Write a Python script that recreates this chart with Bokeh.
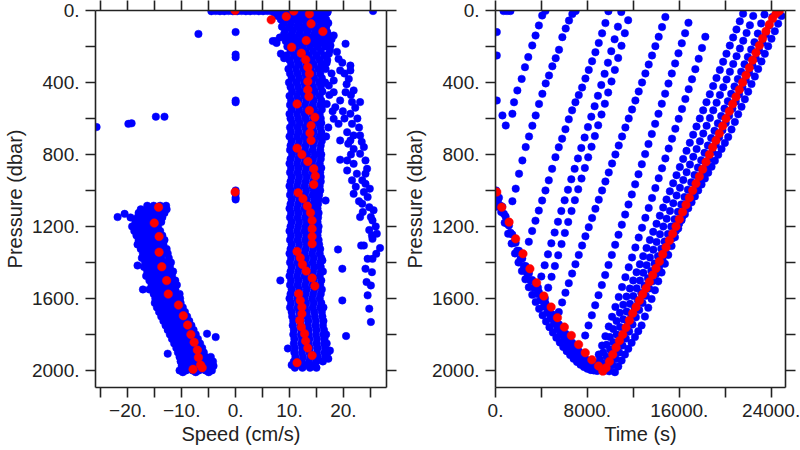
from bokeh.plotting import figure
from bokeh.models import Range1d, FixedTicker, LinearAxis
from bokeh.layouts import row
from bokeh.embed import file_html
from bokeh.resources import INLINE

# ---------------- LEFT PANEL DATA: speed (cm/s) vs pressure (dbar) ----------------
top_row_speed = [-4.5, -3.7, -2.9, -2.1, -1.3, -0.5, 0.3, 1.1, 1.9, 2.7, 3.5, 4.3, 5.1, 5.9, 6.7,
                 7.5, 8.3, 9.1, 9.9, 10.7, 11.5, 12.3, 13.1, 13.9, 14.7, 15.5, 16.3, 17.1, 25.5]
top_row_pres = [4, 3, 4, 4, 3, 4, 4, 3, 4, 4, 3, 4, 4, 3, 4, 5, 4, 5, 6, 4, 5, 6, 4, 5, 6, 4, 5, 6, 3]

band_pres = [12, 30, 50, 70, 90, 110, 130, 150, 170, 185,
             200, 225, 250, 275, 300, 325, 350, 375, 400, 425, 450, 475, 500, 525, 550, 575, 600,
             625, 650, 675, 700, 725, 750, 775, 800, 825, 850, 875, 900, 925, 950, 975, 1000,
             1025, 1050, 1075, 1100, 1125, 1150, 1175, 1200, 1225, 1250, 1275, 1300, 1325, 1350,
             1375, 1400, 1425, 1450, 1475, 1500, 1525, 1550, 1575, 1600, 1625, 1650, 1675, 1700,
             1725, 1750, 1775, 1800, 1825, 1850, 1875, 1900, 1925, 1950, 1970, 1985]
band_speeds = [
    [7.2, 8.6, 10.0, 11.4, 12.8, 14.2, 15.6, 17.0],
    [7.8, 9.2, 10.6, 12.0, 13.4, 14.8, 16.2],
    [8.4, 9.8, 11.2, 12.6, 14.0, 15.4, 16.8],
    [8.9, 10.3, 11.7, 13.1, 14.5, 15.9, 17.2],
    [8.6, 10.0, 11.4, 12.8, 14.2, 15.6, 16.8],
    [9.2, 10.6, 12.0, 13.4, 14.8, 16.2],
    [9.0, 10.4, 11.8, 13.2, 14.6, 16.0, 17.0],
    [8.2, 9.6, 11.0, 12.4, 13.8, 15.2, 16.4],
    [7.4, 9.3, 10.7, 12.1, 13.5, 14.9, 16.3],
    [9.8, 11.2, 12.6, 14.0, 15.4, 16.8],
    [9.6, 11.0, 12.4, 13.8, 15.2, 16.6],
    [10.2, 11.6, 13.0, 14.4, 15.8],
    [9.4, 10.8, 12.2, 13.6, 15.0, 16.4],
    [10.0, 11.4, 12.8, 14.2, 15.6, 17.0],
    [10.3, 11.7, 13.1, 14.5, 15.9],
    [9.8, 11.2, 12.6, 14.0, 15.4, 16.7],
    [10.1, 11.5, 12.9, 14.3, 15.7],
    [10.4, 11.8, 13.2, 14.6, 16.0],
    [9.9, 11.3, 12.7, 14.1, 15.5, 16.5],
    [10.2, 11.6, 13.0, 14.4, 15.8],
    [10.5, 11.9, 13.3, 14.7, 16.1],
    [10.0, 11.4, 12.8, 14.2, 15.6],
    [10.3, 11.7, 13.1, 14.5, 15.9],
    [10.1, 11.5, 12.9, 14.3, 15.7],
    [10.4, 11.8, 13.2, 14.6, 16.0],
    [10.0, 11.4, 12.8, 14.2, 15.6],
    [10.2, 11.6, 13.0, 14.4, 15.8],
    [10.5, 11.9, 13.3, 14.7, 15.9],
    [10.1, 11.5, 12.9, 14.3, 15.7],
    [10.3, 11.7, 13.1, 14.5, 15.9],
    [10.0, 11.4, 12.8, 14.2, 15.6],
    [10.4, 11.8, 13.2, 14.6, 16.0],
    [10.2, 11.6, 13.0, 14.4, 15.8],
    [10.1, 11.5, 12.9, 14.3, 15.7],
    [10.5, 11.9, 13.3, 14.7, 15.9],
    [10.2, 11.6, 13.0, 14.4, 15.8],
    [10.0, 11.4, 12.8, 14.2, 15.6],
    [10.3, 11.7, 13.1, 14.5, 15.9],
    [10.1, 11.5, 12.9, 14.3, 15.7],
    [10.4, 11.8, 13.2, 14.6, 15.8],
    [10.2, 11.6, 13.0, 14.4, 15.8],
    [10.0, 11.4, 12.8, 14.2, 15.6],
    [10.3, 11.7, 13.1, 14.5, 15.7],
    [10.1, 11.5, 12.9, 14.3, 15.5],
    [10.4, 11.8, 13.2, 14.6, 15.4],
    [10.2, 11.6, 13.0, 14.4, 15.3],
    [10.0, 11.4, 12.8, 14.2, 15.2],
    [10.3, 11.7, 13.1, 14.5, 15.4],
    [10.1, 11.5, 12.9, 14.3, 15.3],
    [10.4, 11.8, 13.2, 14.6, 15.2],
    [10.2, 11.6, 13.0, 14.4, 15.4],
    [10.0, 11.4, 12.8, 14.2, 15.3],
    [10.3, 11.7, 13.1, 14.5, 15.2],
    [10.1, 11.5, 12.9, 14.3, 15.4],
    [10.4, 11.8, 13.2, 14.6, 15.5],
    [10.2, 11.6, 13.0, 14.4, 15.7],
    [10.0, 11.4, 12.8, 14.2, 15.6],
    [10.3, 11.7, 13.1, 14.5, 15.9],
    [10.1, 11.5, 12.9, 14.3, 15.7],
    [10.4, 11.8, 13.2, 14.6, 15.8],
    [10.2, 11.6, 13.0, 14.4, 15.8, 16.2],
    [10.0, 11.4, 12.8, 14.2, 15.6],
    [10.3, 11.7, 13.1, 14.5, 15.9],
    [10.1, 11.5, 12.9, 14.3, 15.7],
    [10.4, 11.8, 13.2, 14.6, 16.0],
    [10.2, 11.6, 13.0, 14.4, 15.8],
    [10.0, 11.4, 12.8, 14.2, 15.6],
    [10.3, 11.7, 13.1, 14.5, 15.9],
    [10.1, 11.5, 12.9, 14.3, 15.7, 16.3],
    [10.4, 11.8, 13.2, 14.6, 16.0],
    [10.5, 11.9, 13.3, 14.7, 16.1],
    [10.7, 12.1, 13.5, 14.9, 16.3],
    [10.6, 12.0, 13.4, 14.8, 16.2],
    [10.8, 12.2, 13.6, 15.0, 16.4],
    [10.7, 12.1, 13.5, 14.9, 16.3, 16.8],
    [10.9, 12.3, 13.7, 15.1, 16.5],
    [10.8, 12.2, 13.6, 15.0, 16.4, 16.9],
    [11.0, 12.4, 13.8, 15.2, 16.6],
    [10.9, 12.3, 13.7, 15.1, 16.5, 17.1],
    [11.1, 12.5, 13.9, 15.3, 16.7],
    [10.8, 12.2, 13.6, 15.0, 16.2],
    [10.4, 11.8, 13.2, 14.6],
    [11.0, 12.4, 13.8, 15.0],
]

outer_speed = [18.2, 20.4, 17.6, 17.3, 21.3, 19.1, 19.4, 21.3, 21.0, 18.2, 17.3, 21.9, 18.2, 20.4,
               19.4, 23.1, 21.6, 18.5, 21.3, 18.2, 19.1, 21.6, 20.7, 21.9, 23.1, 19.4, 21.3, 23.8,
               21.9, 23.1, 19.4, 20.7, 24.1, 21.9, 20.7, 24.1, 22.5, 21.6, 23.5, 24.1, 21.9, 23.8,
               24.5, 24.8, 23.5, 25.1, 25.4, 23.1, 16.1, 16.7, 14.8,
               19.0, 19.8, 19.8, 20.5, 8.3, 9.7, 23.3, 24.1, 24.3, 24.5, 24.8, 25.1, 25.3, 25.4,
               26.1, 25.4, 24.5, 23.8, 25.1, 25.3, 26.0, 24.8,
               16.8, 17.5, 16.9, 17.8, 16.6, 17.4, 16.9, 18.0, 17.2, 16.8,
               6.9, 7.6, 8.4, 9.0, 16.7, 16.1, 17.5, 17.2,
               17.0, 17.8, 18.8, 19.8, 20.2, 20.6, 21.4, 22.2, 22.6, 22.9, 23.4, 24.4, 24.9,
               25.6, 26.2, 26.8, 19.9, 20.2, 20.9, 21.4, 22.3, 22.9, 23.6]
outer_pres = [139, 185, 194, 241, 306, 269, 333, 333, 380, 389, 417, 444, 454, 454,
              500, 509, 509, 537, 574, 602, 630, 630, 676, 694, 694, 722, 722, 759,
              769, 796, 829, 833, 833, 852, 889, 907, 907, 944, 944, 963, 1019, 1009,
              1037, 1093, 1074, 1148, 1167, 1148, 74, 93, 28,
              1328, 1435, 1611, 1809, 1500, 1878, 1306, 1435, 1509, 1583, 1657, 1731, 1454, 1380,
              1352, 1269, 1380, 1306, 1528, 1250, 1200, 1220,
              160, 220, 290, 350, 400, 470, 520, 560, 650, 700,
              170, 180, 240, 265, 1056, 1389, 1890, 1935,
              120, 160, 230, 290, 350, 410, 470, 540, 600, 650, 730, 880, 990,
              1110, 1240, 1320, 560, 600, 740, 800, 980, 1060, 1120]

neg_pres = [1085, 1105, 1125, 1150, 1175, 1200, 1225, 1250, 1275, 1300, 1325, 1350, 1375, 1400,
            1425, 1450, 1475, 1500, 1525, 1550, 1575, 1600, 1625, 1650, 1675, 1700, 1725, 1750,
            1775, 1800, 1825, 1850, 1875, 1900, 1925, 1950, 1975, 2000, 2010]
neg_speeds = [
    [-16.4, -15.2, -14.0, -12.9],
    [-17.6, -16.4, -15.2, -14.0, -12.8],
    [-18.0, -16.8, -15.6, -14.4, -13.2],
    [-19.5, -18.2, -17.0, -15.8, -14.6, -13.6],
    [-18.6, -17.4, -16.2, -15.0, -13.8],
    [-19.2, -18.0, -16.8, -15.6, -14.4],
    [-18.8, -17.6, -16.4, -15.2, -14.0],
    [-18.4, -17.2, -16.0, -14.8, -13.6],
    [-18.0, -16.8, -15.6, -14.4, -13.2],
    [-18.2, -17.0, -15.8, -14.6, -13.4],
    [-17.6, -16.4, -15.2, -14.0, -12.8],
    [-17.2, -16.0, -14.8, -13.6, -12.6],
    [-17.4, -16.2, -15.0, -13.8, -12.4],
    [-16.8, -15.6, -14.4, -13.2, -12.0],
    [-17.0, -15.8, -14.6, -13.4, -12.2],
    [-16.4, -15.2, -14.0, -12.8, -11.6],
    [-16.6, -15.4, -14.2, -13.0, -11.8],
    [-16.0, -14.8, -13.6, -12.4, -11.2],
    [-15.6, -14.4, -13.2, -12.0, -10.9],
    [-17.2, -16.0, -14.8, -13.6, -12.4, -11.2],
    [-15.2, -14.0, -12.8, -11.6, -10.4],
    [-14.9, -13.7, -12.5, -11.3, -10.3],
    [-15.0, -13.8, -12.6, -11.4, -10.2],
    [-14.6, -13.4, -12.2, -11.0, -9.8],
    [-14.2, -13.0, -11.8, -10.6, -9.4],
    [-13.8, -12.6, -11.4, -10.2, -9.0],
    [-13.4, -12.2, -11.0, -9.8, -8.6],
    [-13.0, -11.8, -10.6, -9.4, -8.2],
    [-12.6, -11.4, -10.2, -9.0, -7.8],
    [-12.2, -11.0, -9.8, -8.6, -7.4],
    [-11.8, -10.6, -9.4, -8.2, -7.0],
    [-11.4, -10.2, -9.0, -7.8, -6.6],
    [-11.0, -9.8, -8.6, -7.4, -6.2],
    [-10.7, -9.5, -8.3, -7.1, -5.9],
    [-10.4, -9.2, -8.0, -6.8, -5.6, -4.6],
    [-10.2, -9.0, -7.8, -6.6, -5.4, -4.2],
    [-10.0, -8.8, -7.6, -6.4, -5.2, -4.1],
    [-10.4, -9.2, -8.0, -6.8, -5.6, -4.4],
    [-9.8, -7.4, -5.0],
]

iso_speed = [-25.8, -19.9, -19.3, -14.8, -13.2, -6.9, 0.0, 0.0, 0.0, 0.0, 0.0, 0.0, 0.0, 0.0,
             0.0, -21.9, -20.6, -18.2, -12.6, -5.3, -3.7]
iso_pres = [648, 630, 627, 590, 590, 130, 120, 245, 260, 500, 510, 1000, 1020, 1040, 1050,
            1148, 1130, 1417, 1907, 1796, 1815]

red_speed = [-0.1, 6.6, 9.4, 10.8, 13.7, 14.0, 16.2, 10.4, 13.1, 12.2, 13.0, 13.4, 13.7, 13.4,
             13.4, 13.6, 11.4, 13.7, 14.7, 14.0, 13.8, 14.0, 11.4, 12.3, 13.4, 14.5, 14.8, 14.5,
             -0.1, 11.6, 12.5, 13.3, 13.9, 14.2, -14.3, -15.1, 14.2, 14.2, 14.2, 11.4, 12.0,
             12.4, 13.1, 14.2, 14.7, 11.7, 12.0, 12.3, 12.3, 11.9, 12.2, 12.8, 13.0, 13.4, 14.2,
             11.4, -14.2, -14.2, -13.7, -12.8, -12.5, -10.6, -9.7, -8.9, -8.3, -7.7, -7.1, -6.9,
             -6.5, -6.2, -7.9]
red_pres = [0, 52, 33, 3, 19, 74, 117, 204, 167, 237, 274, 315, 352, 394,
            441, 478, 519, 556, 593, 639, 681, 722, 765, 800, 839, 880, 920, 967,
            1009, 1013, 1046, 1087, 1124, 1167, 1093, 1181, 1213, 1256, 1296, 1339, 1374,
            1411, 1448, 1487, 1531, 1574, 1611, 1648, 1685, 1722, 1759, 1796, 1837, 1876, 1917,
            1957, 1256, 1343, 1424, 1501, 1576, 1637, 1696, 1748, 1800, 1844, 1887, 1928,
            1970, 1985, 1994]

# ---------------- RIGHT PANEL DATA: time (s) vs pressure (dbar) ----------------
a_t = [1470, 1614, 1903, 2278, 2566, 2854, 3200, 3488, 3777, 4065, 4353]
a_p = [574, 510, 444, 380, 315, 259, 194, 139, 83, 28, 2]

b_t = [1470, 1760, 2050, 2340, 2630, 2920, 3210, 3500, 3790, 4080, 4370, 4660, 4950, 5240,
       5530, 5820, 6110, 6400, 6690, 6980]
b_p = [1060, 990, 907, 833, 759, 700, 640, 583, 519, 463, 405, 361, 310, 265,
       218, 148, 100, 56, 20, 3]

c_t = [2900, 3190, 3480, 3770, 4060, 4350, 4640, 4930, 5220, 5510, 5800, 6090, 6380, 6670,
       6960, 7250, 7540, 7830, 8120, 8410, 8700, 8990, 9280, 9570, 9830]
c_p = [1285, 1225, 1168, 1112, 1056, 1000, 944, 880, 815, 760, 712, 660, 605, 555,
       510, 470, 428, 378, 330, 282, 232, 180, 127, 70, 4]

d_t = [3700, 3990, 4280, 4570, 4860, 5150, 5440, 5730, 6020, 6310, 6600, 6890, 7180, 7470,
       7760, 8050, 8340, 8630, 8920, 9210, 9500, 9790, 10080, 10370, 10660, 10950]
d_p = [1540, 1478, 1416, 1355, 1294, 1234, 1174, 1114, 1055, 996, 938, 880, 822, 764,
       706, 648, 590, 532, 474, 414, 352, 290, 226, 160, 90, 8]

e_t = [4300, 4590, 4880, 5170, 5460, 5750, 6040, 6330, 6620, 6910, 7200, 7490, 7780, 8070,
       8360, 8650, 8940, 9230, 9520, 9810, 10100, 10390, 10680, 10970, 11260, 11550]
e_p = [1600, 1540, 1480, 1420, 1360, 1298, 1236, 1175, 1114, 1054, 994, 934, 875, 816,
       757, 698, 638, 578, 518, 456, 394, 330, 264, 196, 126, 54]

f_t = [5510, 5800, 6090, 6380, 6670, 6960, 7250, 7540, 7830, 8120, 8410, 8700, 8990, 9280,
       9570, 9860, 10150, 10440, 10730, 11020, 11310, 11600, 11890, 12180, 12470, 12760,
       13050, 13340, 13630, 13920, 14210, 14500, 14790]
f_p = [1676, 1622, 1568, 1515, 1462, 1410, 1358, 1306, 1255, 1204, 1153, 1102, 1051, 1000,
       950, 900, 850, 800, 750, 700, 650, 600, 550, 500, 450, 400, 350, 300, 250, 198, 146,
       92, 36]

g_t = [7810, 8100, 8390, 8680, 8970, 9260, 9550, 9840, 10130, 10420, 10710, 11000, 11290,
       11580, 11870, 12160, 12450, 12740, 13030, 13320, 13610, 13900, 14190, 14480, 14770,
       15060, 15350, 15640, 15930, 16220, 16510, 16800]
g_p = [1806, 1750, 1694, 1638, 1582, 1526, 1470, 1414, 1358, 1302, 1246, 1190, 1134, 1078,
       1022, 966, 910, 854, 798, 742, 686, 630, 574, 518, 462, 406, 350, 294, 238, 182, 126, 68]

h_t = [8700, 8990, 9280, 9570, 9860, 10150, 10440, 10730, 11020, 11310, 11600, 11890, 12180,
       12470, 12760, 13050, 13340, 13630, 13920, 14210, 14500, 14790, 15080, 15370, 15660,
       15950, 16240, 16530, 16820, 17110, 17400, 17690, 17980, 18270]
h_p = [1960, 1912, 1862, 1810, 1756, 1702, 1647, 1592, 1537, 1482, 1427, 1372, 1317, 1262,
       1207, 1152, 1097, 1042, 987, 932, 877, 822, 767, 712, 657, 602, 547, 492, 437, 382,
       326, 268, 208, 146]

m1_t = [8800, 9090, 9380, 9670, 9960, 10250, 10540, 10830, 11120, 11410, 11700, 11990, 12280,
        12570, 12860, 13150, 13440, 13730, 14020, 14310, 14600, 14890, 15180, 15470, 15760,
        16050, 16340, 16630, 16920, 17210, 17500, 17790, 18080, 18370, 18660, 18950, 19240,
        19530, 19820, 20110, 20400, 20690, 20980, 21270, 21560]
m1_p = [1975, 1940, 1900, 1858, 1815, 1770, 1725, 1680, 1635, 1590, 1545, 1500, 1455, 1410,
        1365, 1320, 1275, 1230, 1185, 1140, 1095, 1050, 1005, 960, 915, 870, 825, 780, 735,
        690, 645, 600, 555, 510, 465, 420, 375, 330, 285, 240, 195, 150, 105, 60, 18]

m2_t = [9100, 9390, 9680, 9970, 10260, 10550, 10840, 11130, 11420, 11710, 12000, 12290, 12580,
        12870, 13160, 13450, 13740, 14030, 14320, 14610, 14900, 15190, 15480, 15770, 16060,
        16350, 16640, 16930, 17220, 17510, 17800, 18090, 18380, 18670, 18960, 19250, 19540,
        19830, 20120, 20410, 20700, 20990, 21280, 21570, 21860, 22150, 22440]
m2_p = [1998, 1962, 1924, 1884, 1843, 1801, 1759, 1716, 1673, 1630, 1587, 1544, 1501, 1458,
        1415, 1372, 1329, 1286, 1243, 1200, 1157, 1114, 1071, 1028, 985, 942, 899, 856, 813,
        770, 727, 684, 641, 598, 555, 512, 469, 426, 383, 340, 297, 254, 211, 168, 125, 82, 30]

m3_t = [9500, 9790, 10080, 10370, 10660, 10950, 11240, 11530, 11820, 12110, 12400, 12690,
        12980, 13270, 13560, 13850, 14140, 14430, 14720, 15010, 15300, 15590, 15880, 16170,
        16460, 16750, 17040, 17330, 17620, 17910, 18200, 18490, 18780, 19070, 19360, 19650,
        19940, 20230, 20520, 20810, 21100, 21390, 21680, 21970, 22260, 22550, 22840, 23130, 23420]
m3_p = [2002, 1968, 1932, 1894, 1855, 1815, 1775, 1734, 1693, 1652, 1611, 1570, 1529, 1488,
        1447, 1406, 1365, 1324, 1283, 1242, 1201, 1160, 1119, 1078, 1037, 996, 955, 914, 873,
        832, 791, 750, 709, 668, 627, 586, 545, 504, 463, 422, 381, 340, 299, 258, 217, 176,
        128, 72, 22]

m4_t = [9900, 10190, 10480, 10770, 11060, 11350, 11640, 11930, 12220, 12510, 12800, 13090,
        13380, 13670, 13960, 14250, 14540, 14830, 15120, 15410, 15700, 15990, 16280, 16570,
        16860, 17150, 17440, 17730, 18020, 18310, 18600, 18890, 19180, 19470, 19760, 20050,
        20340, 20630, 20920, 21210, 21500, 21790, 22080, 22370, 22660, 22950, 23240, 23530,
        23820, 24110]
m4_p = [2005, 1972, 1937, 1900, 1862, 1823, 1784, 1745, 1705, 1665, 1625, 1585, 1545, 1505,
        1465, 1425, 1385, 1345, 1305, 1265, 1225, 1185, 1145, 1105, 1065, 1025, 985, 945, 905,
        865, 825, 785, 745, 705, 665, 625, 585, 545, 505, 465, 425, 385, 345, 305, 265, 222,
        178, 132, 84, 36]

m5_t = [10400, 10690, 10980, 11270, 11560, 11850, 12140, 12430, 12720, 13010, 13300, 13590,
        13880, 14170, 14460, 14750, 15040, 15330, 15620, 15910, 16200, 16490, 16780, 17070,
        17360, 17650, 17940, 18230, 18520, 18810, 19100, 19390, 19680, 19970, 20260, 20550,
        20840, 21130, 21420, 21710, 22000, 22290, 22580, 22870, 23160, 23450, 23740, 24030,
        24320, 24610, 24900]
m5_p = [2010, 1978, 1945, 1912, 1880, 1847, 1815, 1782, 1750, 1701, 1652, 1603, 1554, 1505,
        1456, 1407, 1358, 1309, 1260, 1211, 1165, 1132, 1099, 1066, 1033, 1000, 967, 934, 901,
        868, 835, 802, 769, 736, 703, 661, 619, 577, 535, 493, 451, 409, 367, 325, 283, 241,
        199, 157, 115, 73, 31]

d0_t = [200, 500, 800, 1100, 1400, 1700, 2000, 2300, 2600, 2900, 3200, 3500, 3800, 4100,
        4400, 4700, 5000, 5300, 5600, 5900, 6200, 6500, 6800, 7100, 7400, 7700, 8000, 8300]
d0_p = [1060, 1120, 1180, 1240, 1295, 1350, 1400, 1448, 1494, 1538, 1580, 1620, 1658, 1694,
        1728, 1760, 1790, 1818, 1845, 1870, 1893, 1915, 1935, 1953, 1968, 1981, 1991, 1998]

d1_t = [150, 440, 730, 1020, 1310, 1600, 1890, 2180, 2470, 2760, 3050, 3340, 3630, 3920, 4210,
        4500, 4790, 5080, 5370, 5660, 5950, 6240, 6530, 6820, 7110, 7400, 7690, 7980, 8270,
        8560, 8850]
d1_p = [1030, 1085, 1130, 1185, 1235, 1290, 1335, 1380, 1420, 1460, 1500, 1540, 1575, 1610,
        1645, 1680, 1710, 1740, 1770, 1800, 1828, 1855, 1880, 1905, 1928, 1950, 1970, 1985,
        1995, 2000, 2003]

d2_t = [300, 590, 880, 1170, 1460, 1750, 2040, 2330, 2620, 2910, 3200, 3490, 3780, 4070, 4360,
        4650, 4940, 5230, 5520, 5810, 6100, 6390, 6680, 6970, 7260, 7550, 7840, 8130, 8420,
        8710, 9000]
d2_p = [1040, 1090, 1145, 1195, 1245, 1290, 1335, 1378, 1420, 1460, 1498, 1532, 1566, 1598,
        1628, 1658, 1688, 1716, 1744, 1770, 1796, 1822, 1846, 1870, 1893, 1915, 1936, 1955,
        1972, 1986, 1996]

iso_t = [112, 112, 112, 605, 894, 700, 1000, 1300, 60, 60, 60]
iso_p = [120, 250, 500, 583, 639, 3, 3, 3, 1000, 1040, 1090]

red_t = [112, 545, 1182, 1758, 2393, 2998, 3575, 4209, 4843, 5393, 5998, 6603, 7238, 7814,
         8390, 8966, 9341,
         9630, 9920, 10210, 10500, 10790, 11080, 11370, 11660, 11950, 12240, 12530, 12820,
         13110, 13400, 13690, 13980, 14270, 14560, 14850, 15140, 15430, 15720, 16010, 16300,
         16590, 16880, 17170, 17460, 17750, 18040, 18330, 18620, 18910, 19200, 19490, 19780,
         20070, 20360, 20650, 20940, 21230, 21520, 21810, 22100, 22390, 22680, 22970, 23260,
         23550, 23840, 24130, 24420, 24710]
red_p = [1009, 1093, 1176, 1269, 1352, 1435, 1513, 1587, 1648, 1707, 1759, 1806, 1856, 1902,
         1941, 1976, 2004,
         1985, 1950, 1912, 1873, 1835, 1800, 1762, 1722, 1683, 1648, 1612, 1577, 1543, 1508,
         1470, 1433, 1395, 1355, 1316, 1278, 1240, 1200, 1160, 1120, 1080, 1040, 1000, 962,
         922, 882, 842, 800, 760, 722, 683, 642, 600, 560, 520, 480, 440, 400, 360, 318, 276,
         235, 195, 155, 115, 78, 45, 18, 3]

speed_ticks = [-25, -20, -15, -10, -5, 0, 5, 10, 15, 20, 25]
speed_labels = {-25: "", -20: "\u221220.", -15: "", -10: "\u221210.", -5: "", 0: "0.", 5: "",
                10: "10.", 15: "", 20: "20.", 25: ""}
time_ticks = [0, 4000, 8000, 12000, 16000, 20000, 24000]
time_labels = {0: "0.", 4000: "", 8000: "8000.", 12000: "", 16000: "16000.", 20000: "",
               24000: "24000."}
pres_ticks = [0, 200, 400, 600, 800, 1000, 1200, 1400, 1600, 1800, 2000]
pres_labels = {0: "0.", 200: "", 400: "400.", 600: "", 800: "800.", 1000: "", 1200: "1200.",
               1400: "", 1600: "1600.", 1800: "", 2000: "2000."}

# ---------------- build ----------------
BLUE = "#0000ff"
RED = "#ff0000"
INK = "#222222"
FONT = "Liberation Sans"


def flat(levels, rows):
    xs, ys = [], []
    for lv, r in zip(levels, rows):
        for v in r:
            xs.append(v)
            ys.append(lv)
    return xs, ys


def style(ax, ticks, labels=None, show=True):
    ax.ticker = FixedTicker(ticks=ticks)
    ax.major_tick_in = 0
    ax.major_tick_out = 10
    ax.minor_tick_line_color = None
    ax.axis_line_width = 1.6
    ax.axis_line_color = INK
    ax.major_tick_line_width = 1.6
    ax.major_tick_line_color = INK
    ax.major_label_text_font = FONT
    ax.major_label_text_font_size = "19px"
    ax.major_label_text_color = INK
    ax.major_label_standoff = 6
    ax.axis_label_text_font = FONT
    ax.axis_label_text_font_size = "20px"
    ax.axis_label_text_font_style = "normal"
    ax.axis_label_text_color = INK
    ax.axis_label_standoff = 3
    if labels is not None:
        ax.major_label_overrides = labels
    if not show:
        ax.major_label_text_color = None
        ax.major_label_standoff = 0


def make_fig(width, xr, left_border, right_border):
    p = figure(width=width, height=450, x_range=xr, y_range=Range1d(2095, 0),
               output_backend="svg", toolbar_location=None,
               min_border_left=left_border, min_border_right=right_border,
               min_border_top=10, min_border_bottom=63,
               x_axis_location="below", y_axis_location="left")
    p.grid.visible = False
    p.outline_line_color = None
    p.background_fill_color = "white"
    p.border_fill_color = "white"
    return p


# Left figure
p1 = make_fig(400, Range1d(-26, 28), 95, 14)
style(p1.xaxis[0], speed_ticks, speed_labels)
style(p1.yaxis[0], pres_ticks, pres_labels)
p1.xaxis[0].axis_label = "Speed (cm/s)"
p1.yaxis[0].axis_label = "Pressure (dbar)"
top1 = LinearAxis()
style(top1, speed_ticks, show=False)
p1.add_layout(top1, "above")
right1 = LinearAxis()
style(right1, pres_ticks, show=False)
p1.add_layout(right1, "right")

bx, by = flat(band_pres, band_speeds)
nx, ny = flat(neg_pres, neg_speeds)
blue_sx = top_row_speed + bx + outer_speed + nx + iso_speed
blue_sy = top_row_pres + by + outer_pres + ny + iso_pres
p1.scatter(blue_sx, blue_sy, size=7.5, fill_color=BLUE, line_color=BLUE, line_width=0.5)
p1.scatter(red_speed, red_pres, size=8.5, fill_color=RED, line_color=RED, line_width=0.5)

# Right figure
p2 = make_fig(400, Range1d(0, 25250), 93, 15)
style(p2.xaxis[0], time_ticks, time_labels)
style(p2.yaxis[0], pres_ticks, pres_labels)
p2.xaxis[0].axis_label = "Time (s)"
p2.yaxis[0].axis_label = "Pressure (dbar)"
top2 = LinearAxis()
style(top2, time_ticks, show=False)
p2.add_layout(top2, "above")
right2 = LinearAxis()
style(right2, pres_ticks, show=False)
p2.add_layout(right2, "right")

profiles = [(a_t, a_p), (b_t, b_p), (c_t, c_p), (d_t, d_p), (e_t, e_p), (f_t, f_p), (g_t, g_p),
            (h_t, h_p), (m1_t, m1_p), (m2_t, m2_p), (m3_t, m3_p), (m4_t, m4_p), (m5_t, m5_p),
            (d0_t, d0_p), (d1_t, d1_p), (d2_t, d2_p), (iso_t, iso_p)]
tx, ty = [], []
for ts, ps in profiles:
    for t, pr in zip(ts, ps):
        tx.append(t)
        ty.append(pr)
p2.scatter(tx, ty, size=7.5, fill_color=BLUE, line_color=BLUE, line_width=0.5)
p2.scatter(red_t, red_p, size=8.5, fill_color=RED, line_color=RED, line_width=0.5)

layout = row(p1, p2)
open("out.html", "w").write(file_html(layout, INLINE))
